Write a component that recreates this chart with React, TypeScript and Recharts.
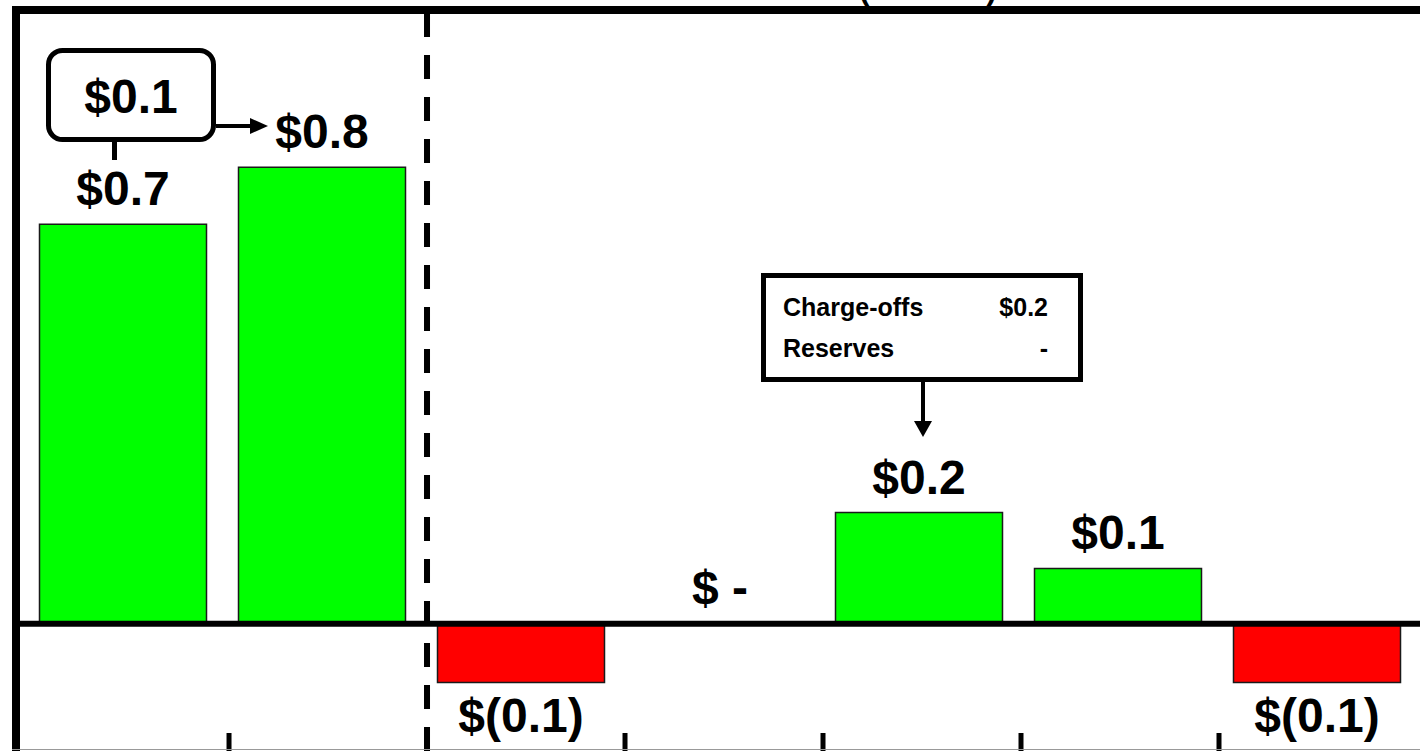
import React from 'react';
import { BarChart, Bar, XAxis, YAxis, Cell, LabelList, ReferenceLine } from 'recharts';

// ---- data ----
const categories = ['P1', 'P2', 'P3', 'P4', 'P5', 'P6', 'P7'];
const positions = [0.5, 1.5, 2.5, 3.5, 4.5, 5.5, 6.5];
const values = [0.7, 0.8, -0.103, 0, 0.195, 0.097, -0.103];
const valueLabels = ['$0.7', '$0.8', '$(0.1)', '$ -', '$0.2', '$0.1', '$(0.1)'];
const boundaryTicks = [1, 2, 3, 4, 5, 6];
const dividerTick = 2;
const changeLabel = '$0.1';
const breakdownRows = ['Charge-offs', 'Reserves'];
const breakdownValues = ['$0.2', '-'];
const headerText = '(Release)';

const data = categories.map((name, i) => ({ name, pos: positions[i], value: values[i], label: valueLabels[i] }));

const FONT = '"Liberation Sans", Arial, Helvetica, sans-serif';
const GREEN = '#00ff00';
const RED = '#ff0000';

const ValueLabel = (props: any) => {
  const { x, y, width, height, index } = props;
  const v = values[index];
  const top = Math.min(y, y + height);
  const bottom = Math.max(y, y + height);
  const cx = x + width / 2;
  const by = v >= 0 ? top - 19 : bottom + 49;
  return (
    <text x={cx} y={by} textAnchor="middle" fontFamily={FONT} fontWeight="bold" fontSize={48} fill="#000">
      {valueLabels[index]}
    </text>
  );
};

const NoTick = () => <g />;

export default function App() {
  return (
    <div style={{ position: 'absolute', left: 0, top: 0, width: 1420, height: 751, overflow: 'hidden', background: '#fff' }}>
      <BarChart
        width={1420}
        height={751}
        data={data}
        margin={{ top: 10, right: 3.5, bottom: 0, left: 23.5 }}
      >
        <XAxis xAxisId="c" dataKey="name" hide />
        <XAxis
          xAxisId="t"
          dataKey="pos"
          type="number"
          domain={[-0.038, 6.9975]}
          ticks={boundaryTicks}
          interval={0}
          allowDataOverflow
          mirror
          height={1}
          tickSize={18}
          tick={<NoTick />}
          tickLine={{ stroke: '#000', strokeWidth: 5 }}
          axisLine={false}
        />
        <YAxis hide type="number" domain={[-0.2228, 1.0754]} allowDataOverflow />
        <Bar
          xAxisId="c"
          dataKey="value"
          barSize={167}
          minPointSize={1}
          stroke="#1a1a1a"
          strokeWidth={1.5}
          isAnimationActive={false}
        >
          {data.map((d, i) => (
            <Cell key={i} fill={d.value >= 0 ? GREEN : RED} />
          ))}
          <LabelList dataKey="value" content={<ValueLabel />} />
        </Bar>
        <ReferenceLine
          xAxisId="t"
          segment={[{ x: -0.09, y: 0 }, { x: 7.5, y: 0 }]}
          ifOverflow="visible"
          stroke="#000"
          strokeWidth={6}
        />
        <ReferenceLine xAxisId="t" x={dividerTick} stroke="#000" strokeWidth={6} strokeDasharray="24 18" />
      </BarChart>
      <svg
        width={1420}
        height={751}
        style={{ position: 'absolute', left: 0, top: 0, pointerEvents: 'none' }}
      >
        {/* frame */}
        <line x1={16} y1={6} x2={16} y2={751} stroke="#000" strokeWidth={8} />
        <line x1={12} y1={10} x2={1420} y2={10} stroke="#000" strokeWidth={8} />
        <line x1={12} y1={749.5} x2={1420} y2={749.5} stroke="#999" strokeWidth={1} />
        {/* header partially cut off */}
        <text x={928} y={-1} textAnchor="middle" fontFamily={FONT} fontWeight="bold" fontSize={31} fill="#000">
          {headerText}
        </text>
        {/* change callout */}
        <rect x={48.5} y={50.5} width={165} height={89} rx={14} ry={14} fill="#fff" stroke="#000" strokeWidth={5} />
        <text x={131} y={113} textAnchor="middle" fontFamily={FONT} fontWeight="bold" fontSize={48} fill="#000">
          {changeLabel}
        </text>
        <line x1={114.5} y1={142} x2={114.5} y2={160} stroke="#000" strokeWidth={5} />
        <line x1={216} y1={126} x2={252} y2={126} stroke="#000" strokeWidth={4} />
        <polygon points="250,118 268,126 250,134" fill="#000" />
        {/* breakdown callout */}
        <rect x={763.5} y={275.5} width={317} height={104} fill="#fff" stroke="#000" strokeWidth={5} />
        {breakdownRows.map((r, i) => (
          <g key={r}>
            <text x={783} y={316 + i * 41} fontFamily={FONT} fontWeight="bold" fontSize={25} fill="#000">
              {r}
            </text>
            <text x={1048} y={316 + i * 41} textAnchor="end" fontFamily={FONT} fontWeight="bold" fontSize={25} fill="#000">
              {breakdownValues[i]}
            </text>
          </g>
        ))}
        <line x1={923} y1={382} x2={923} y2={423} stroke="#000" strokeWidth={4} />
        <polygon points="914,421 932,421 923,437" fill="#000" />
      </svg>
    </div>
  );
}
